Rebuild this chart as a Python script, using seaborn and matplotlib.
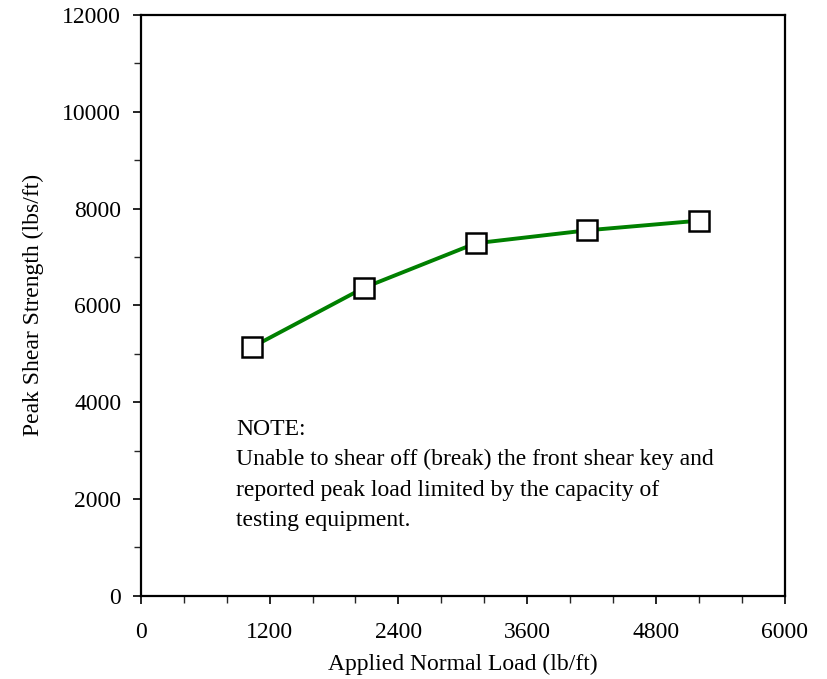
import numpy as np
import pandas as pd
import matplotlib
matplotlib.use('Agg')
import matplotlib.pyplot as plt
from matplotlib.ticker import MultipleLocator
import seaborn as sns

# Data
normal_load = [1040, 2080, 3120, 4160, 5200]
peak_shear = [5140, 6365, 7283, 7551, 7750]
x_ticks = [0, 1200, 2400, 3600, 4800, 6000]
y_ticks = [0, 2000, 4000, 6000, 8000, 10000, 12000]

df = pd.DataFrame({'load': normal_load, 'shear': peak_shear})

sns.set_style('ticks')
plt.rcParams['font.family'] = ['Liberation Serif', 'DejaVu Serif']
plt.rcParams['font.size'] = 17
plt.rcParams['text.color'] = 'black'
plt.rcParams['axes.labelcolor'] = 'black'

fig = plt.figure(figsize=(8.27, 6.79), dpi=100)
ax = fig.add_axes([140.7 / 827, 1 - 595.7 / 679, 644.3 / 827, 580.7 / 679])

sns.lineplot(data=df, x='load', y='shear', ax=ax, color='green', linewidth=2.8,
             marker='s', markersize=14, markerfacecolor='white',
             markeredgecolor='black', markeredgewidth=1.8)

ax.set_xlim(0, 6000)
ax.set_ylim(0, 12000)
ax.set_xticks(x_ticks)
ax.set_yticks(y_ticks)
ax.xaxis.set_minor_locator(MultipleLocator(400))
ax.yaxis.set_minor_locator(MultipleLocator(1000))
ax.tick_params(axis='both', which='major', direction='out', length=6, width=1.2,
               labelsize=17, colors='black')
ax.tick_params(axis='x', which='major', pad=13)
ax.tick_params(axis='y', which='major', pad=8)
ax.tick_params(axis='both', which='minor', direction='out', length=5, width=1.0)
for s in ax.spines.values():
    s.set_linewidth(1.6)
    s.set_color('black')

ax.set_xlabel('Applied Normal Load (lb/ft)', fontsize=17, labelpad=8)
ax.set_ylabel('Peak Shear Strength (lbs/ft)', fontsize=17, labelpad=13)

ax.text(888, 3660, 'NOTE:\nUnable to shear off (break) the front shear key and\n'
        'reported peak load limited by the capacity of\ntesting equipment.',
        fontsize=17, va='top', ha='left', linespacing=1.59)

fig.savefig('out.png', dpi=100)
